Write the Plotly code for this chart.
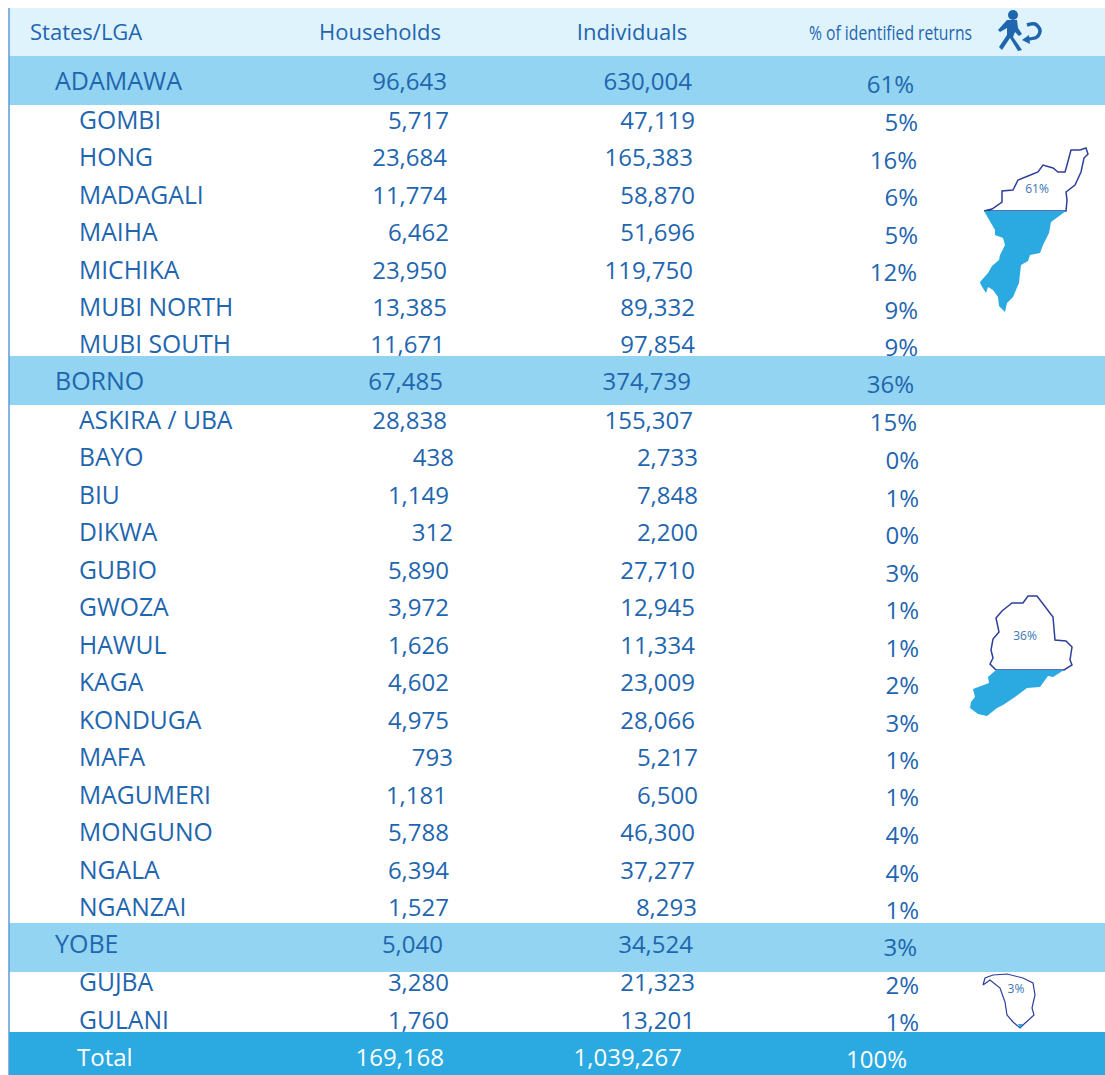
import plotly.graph_objects as go

# ---------- table data ----------
adamawa_names = ["GOMBI", "HONG", "MADAGALI", "MAIHA", "MICHIKA", "MUBI NORTH", "MUBI SOUTH"]
adamawa_hh = ["5,717", "23,684", "11,774", "6,462", "23,950", "13,385", "11,671"]
adamawa_ind = ["47,119", "165,383", "58,870", "51,696", "119,750", "89,332", "97,854"]
adamawa_pct = ["5%", "16%", "6%", "5%", "12%", "9%", "9%"]

borno_names = ["ASKIRA / UBA", "BAYO", "BIU", "DIKWA", "GUBIO", "GWOZA", "HAWUL", "KAGA", "KONDUGA",
               "MAFA", "MAGUMERI", "MONGUNO", "NGALA", "NGANZAI"]
borno_hh = ["28,838", "438", "1,149", "312", "5,890", "3,972", "1,626", "4,602", "4,975", "793", "1,181",
            "5,788", "6,394", "1,527"]
borno_ind = ["155,307", "2,733", "7,848", "2,200", "27,710", "12,945", "11,334", "23,009", "28,066", "5,217",
             "6,500", "46,300", "37,277", "8,293"]
borno_pct = ["15%", "0%", "1%", "0%", "3%", "1%", "1%", "2%", "3%", "1%", "1%", "4%", "4%", "1%"]

yobe_names = ["GUJBA", "GULANI"]
yobe_hh = ["3,280", "1,760"]
yobe_ind = ["21,323", "13,201"]
yobe_pct = ["2%", "1%"]

state_names = ["ADAMAWA", "BORNO", "YOBE"]
state_hh = ["96,643", "67,485", "5,040"]
state_ind = ["630,004", "374,739", "34,524"]
state_pct = ["61%", "36%", "3%"]

total_row = ["Total", "169,168", "1,039,267", "100%"]
headers = ["States/LGA", "Households", "Individuals", "% of identified returns"]
map_labels = ["61%", "36%", "3%"]

# ---------- layout of rows (page pixels) ----------
row_names = adamawa_names + borno_names + yobe_names
row_hh = adamawa_hh + borno_hh + yobe_hh
row_ind = adamawa_ind + borno_ind + yobe_ind
row_pct = adamawa_pct + borno_pct + yobe_pct
row_y = [123, 160, 198, 235, 273, 310, 347,
         423, 460, 498, 535, 573, 610, 648, 685, 723, 760, 798, 835, 873, 910,
         985, 1023]
pct_y = [125, 163, 200, 238, 275, 313, 350,
         425, 463, 501, 538, 576, 613, 651, 688, 726, 763, 800, 838, 876, 913,
         988, 1025]
hh_right = [449, 447, 447, 449, 447, 447, 445,
            447, 454, 449, 453, 449, 449, 449, 449, 449, 453, 447, 449, 449, 449,
            449, 449]
ind_right = [695, 693, 695, 695, 693, 695, 695,
             693, 698, 698, 698, 695, 695, 695, 695, 695, 698, 698, 695, 695, 697,
             695, 695]
pct_right = [918, 917, 918, 918, 917, 918, 918,
             917, 919, 919, 919, 919, 919, 919, 919, 919, 919, 919, 919, 919, 919,
             919, 919]

state_y = [84, 384, 947]
state_pct_y = [87, 387, 950]
state_hh_right = [447, 443, 443]
state_ind_right = [692, 691, 693]
state_pct_right = [914, 914, 917]
bands = [(56, 105), (356, 405), (923, 972)]

# ---------- drawn icon and map outlines (page pixels) ----------
ad_top_x = [984, 992, 1002, 1002, 1013, 1018, 1028, 1038, 1043, 1053, 1058, 1065, 1067, 1071, 1080, 1086, 1088, 1084, 1081, 1075, 1066, 1067, 1066]
ad_top_y = [211, 209, 202, 191, 190, 180, 176, 172, 165, 168, 172, 172, 165, 150, 150, 148, 154, 158, 172, 185, 192, 200, 211]
ad_low_x = [984, 988, 995, 995, 1003, 1005, 1000, 999, 992, 988, 980, 981, 986, 988, 993, 998, 999, 1005, 1007, 1013, 1017, 1019, 1021, 1028, 1030, 1040, 1043, 1049, 1051, 1066]
ad_low_y = [211, 218, 230, 235, 238, 245, 255, 260, 266, 273, 282, 285, 293, 287, 290, 297, 306, 312, 303, 297, 287, 283, 265, 261, 255, 253, 245, 233, 222, 211]

bo_top_x = [996, 990, 993, 991, 993, 999, 996, 1002, 1012, 1023, 1028, 1037, 1053, 1055, 1066, 1072, 1070, 1072, 1064]
bo_top_y = [670, 664, 658, 650, 639, 632, 618, 611, 603, 603, 596, 596, 617, 640, 641, 647, 660, 665, 670]
bo_low_x = [996, 988, 989, 975, 973, 975, 971, 970, 978, 987, 997, 1003, 1015, 1027, 1040, 1048, 1053, 1064]
bo_low_y = [670, 677, 683, 688, 689, 697, 702, 708, 714, 716, 708, 705, 697, 688, 687, 676, 677, 670]

yo_x = [983, 985, 993, 1007, 1023, 1033, 1035, 1032, 1034, 1028, 1023, 1020, 1013, 1007, 1005, 1000, 990, 983]
yo_y = [985, 978, 975, 974, 978, 983, 995, 1008, 1015, 1020, 1025, 1028, 1022, 1015, 1002, 988, 980, 985]
yo_tip_x = [1018, 1023, 1020]
yo_tip_y = [1024, 1024, 1028]

walker_x = [1007, 1017, 1018, 1022, 1019, 1015, 1013, 1022, 1018, 1010, 1002, 999, 1007, 1007, 1000, 998]
walker_y = [20, 20, 28, 34, 36, 32, 37, 50, 51, 38, 50, 47, 35, 28, 32, 30]
arrow_x = [1027, 1035, 1040, 1037, 1028]
arrow_y = [25, 24, 30, 37, 39]
head_x = [1013]
head_y = [15]
arrow_head_x = [1022, 1029, 1030, 1022]
arrow_head_y = [40, 35, 44, 40]

BLUE = "#1F66AF"
BAND = "#92D4F1"
TOTAL = "#2BA9E1"
HEAD = "#DFF3FD"
FONT = "Open Sans"
SIZE = 24

fig = go.Figure()


def text(x, y, s, pos, color=BLUE, size=SIZE, family=FONT):
    fig.add_trace(go.Scatter(x=x, y=y, text=s, mode="text", textposition=pos, hoverinfo="skip",
                             showlegend=False, cliponaxis=False,
                             textfont=dict(family=family, size=size, color=color)))


def fill(x, y, color, line=None, width=0):
    fig.add_trace(go.Scatter(x=list(x) + [x[0]], y=list(y) + [y[0]], mode="lines", fill="toself",
                             fillcolor=color, hoverinfo="skip", showlegend=False,
                             line=dict(color=line or color, width=width)))


# LGA rows first, so the coloured bands cut across them as in the original
text([79] * len(row_names), row_y, row_names, "middle right", size=24.7)
text(hh_right, row_y, row_hh, "middle left")
text(ind_right, row_y, row_ind, "middle left")
text(pct_right, pct_y, row_pct, "middle left")

for top, bottom in bands + [(1032, 1075)]:
    fill([9, 1105, 1105, 9], [top, top, bottom, bottom], TOTAL if top == 1032 else BAND)

text([55] * 3, state_y, state_names, "middle right", size=25)
text(state_hh_right, state_y, state_hh, "middle left")
text(state_ind_right, state_y, state_ind, "middle left")
text(state_pct_right, state_pct_y, state_pct, "middle left")

text([77], [1060], total_row[:1], "middle right", "white")
text([444], [1060], total_row[1:2], "middle left", "white")
text([682], [1060], total_row[2:3], "middle left", "white")
text([907], [1062], total_row[3:4], "middle left", "white")

# header
text([30], [34], headers[:1], "middle right", size=22)
text([380, 632], [34, 34], headers[1:3], "middle center", size=22)
text([890.5], [35], headers[3:], "middle center", size=20)

# maps
fill(ad_top_x, ad_top_y, "white", "#2E3F9B", 1.5)
fill(ad_low_x, ad_low_y, TOTAL)
fill(bo_top_x, bo_top_y, "white", "#2E3F9B", 1.5)
fill(bo_low_x, bo_low_y, TOTAL)
fill(yo_x, yo_y, "white", "#2E3F9B", 1.2)
fill(yo_tip_x, yo_tip_y, TOTAL)
text([1037, 1025, 1016], [190, 637, 990], map_labels, "middle center", "#3A75B5", 12)

# icon
fill(walker_x, walker_y, BLUE)
fig.add_trace(go.Scatter(x=head_x, y=head_y, mode="markers", hoverinfo="skip", showlegend=False,
                         marker=dict(color=BLUE, size=10)))
fig.add_trace(go.Scatter(x=arrow_x, y=arrow_y, mode="lines", hoverinfo="skip", showlegend=False,
                         line=dict(color=BLUE, width=3.5, shape="spline")))
fill(arrow_head_x, arrow_head_y, BLUE)

fig.update_layout(
    width=1105, height=1075, margin=dict(l=0, r=0, t=0, b=0),
    paper_bgcolor="white", plot_bgcolor="white",
    xaxis=dict(range=[0, 1105], visible=False, fixedrange=True),
    yaxis=dict(range=[1075, 0], visible=False, fixedrange=True),
    shapes=[
        dict(type="rect", xref="x", yref="y", x0=9, x1=1105, y0=8, y1=56, fillcolor=HEAD, line_width=0, layer="below"),
        dict(type="line", xref="x", yref="y", x0=9, x1=9, y0=8, y1=1075, line=dict(color="#5B9BD5", width=1.5), layer="above"),
    ],
)

# Page fills the window; the condensed header column is fitted to its width in the original
post = """
document.documentElement.style.overflow = 'hidden';
document.body.style.margin = '0';
document.querySelectorAll('text').forEach(function (t) {
  if (t.textContent === '% of identified returns') {
    t.setAttribute('textLength', '163');
    t.setAttribute('lengthAdjust', 'spacingAndGlyphs');
  }
});
"""
fig.write_html("out.html", config={"displayModeBar": False}, post_script=post)
